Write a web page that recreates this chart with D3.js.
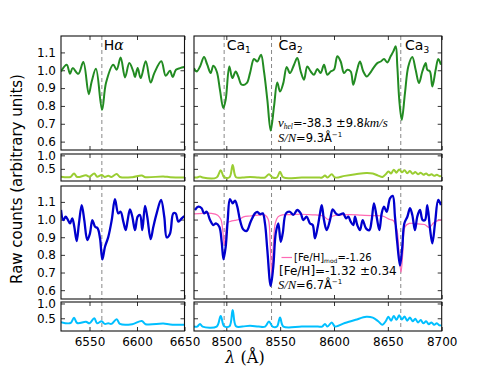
<!DOCTYPE html>
<html>
<head>
<meta charset="utf-8">
<script src="https://cdn.jsdelivr.net/npm/d3@7"></script>
<style>
  body { margin: 0; background: #fff; }
  text { font-family: "DejaVu Sans", sans-serif; }
</style>
</head>
<body>
<div id="chart"></div>
<script>
// ---- data ----
// H-alpha window, star 1 (green)
var lamG1 = [6520,6526,6529.5,6532.3,6538.2,6543.5,6549.2,6552.3,6556.8,6563.2,6567.4,6575,6578.6,6582.8,6587.4,6591.9,6596.1,6597.9,6600.7,6603.9,6609.2,6614.4,6618.2,6625.6,6630.2,6634.7,6637.6,6641,6645.3,6649.8];
var fluxG1 = [0.993,1.031,0.98,1.012,0.98,1.046,0.866,0.937,1.008,0.778,0.93,1.031,1.003,1.072,0.96,1.04,0.993,0.962,1.012,0.956,1.05,0.931,0.984,1.05,0.969,0.997,0.962,1.003,1.012,1.018];
// CaT window, star 1 (green)
var lamG2 = [8470,8472.5,8475.6,8479.3,8482.3,8485.5,8487.9,8491.1,8494.1,8497.2,8499.4,8502.8,8505.6,8508.7,8511.1,8514.3,8518.9,8522,8525.7,8528.8,8532.2,8535,8538.1,8541.2,8544.3,8547.3,8549.9,8552.9,8556.1,8559.1,8562.9,8565.9,8569.1,8572.1,8575.2,8578.4,8581.4,8584.5,8587.6,8590.7,8593.8,8596.9,8600,8603.1,8606.2,8609.3,8612.3,8615.5,8617.9,8621.1,8624.1,8627.2,8630.4,8633.4,8636.5,8640.2,8643.4,8646.4,8649.5,8652.6,8655.1,8657.3,8658.8,8660.6,8662.9,8665.9,8669,8672.7,8675.8,8678.9,8682,8685.1,8686.6,8689.1,8691.3,8694.4,8696.8,8699.3];
var fluxG2 = [1.012,0.993,1.021,1.074,1.031,0.984,1.025,0.993,0.89,0.788,0.834,1.021,0.956,0.993,0.965,0.919,0.928,0.984,1.063,1.049,1.087,0.993,0.834,0.662,0.797,0.931,0.881,0.928,1.018,0.984,1.031,1.069,0.993,0.947,1.021,0.993,0.975,1.007,0.984,1.031,0.975,0.993,1.003,1.078,1.049,0.984,1.003,0.993,0.919,0.993,1.049,0.993,0.965,0.984,1.012,1.04,1.049,1.063,1.044,1.078,1.106,1.134,1.021,0.834,0.722,0.872,1.021,1.074,1.003,0.928,0.993,1.04,1.003,0.993,0.909,1.003,1.063,1.031];
// H-alpha window, star 2 (blue)
var lamB1 = [6520,6522.4,6524.9,6527.1,6529.5,6531.9,6534,6536.5,6538.9,6541.8,6544.5,6547.7,6550.5,6553,6555.8,6558.6,6561.1,6563.5,6566.3,6569.8,6573.4,6576.8,6580.3,6582.8,6585.6,6588.1,6590.2,6592.6,6595.1,6597.9,6600.7,6603.2,6605.6,6608.4,6610.8,6614.4,6617.2,6620.7,6625.3,6628.7,6631.3,6634.7,6638.2,6640.7,6643.5,6647.1,6649.8];
var fluxB1 = [1.054,0.997,1.016,1.0,0.978,1.007,0.959,0.878,0.978,1.082,0.997,0.884,0.922,0.997,0.96,0.95,0.893,0.774,0.846,0.902,0.997,1.115,1.035,1.044,0.988,0.94,0.997,1.058,1.016,0.94,1.016,1.026,0.94,1.077,1.016,0.889,0.959,1.035,1.111,1.016,0.899,0.92,1.035,1.035,0.988,1.007,1.02];
// CaT window, star 2 (blue)
var lamB2 = [8470.9,8474,8477.1,8479.3,8481.8,8484.9,8487.9,8490.4,8493.5,8495.7,8497.4,8499.4,8501.3,8503.4,8505.9,8508.1,8510.2,8512.7,8515.8,8518.9,8522.6,8526.6,8528.8,8531.3,8533.8,8535.9,8538.1,8541.2,8543.6,8545.9,8548.3,8550.5,8552.4,8555.4,8559.1,8562.2,8565.9,8569.1,8571.5,8574.6,8577.7,8580.2,8582.3,8584.9,8587,8588.6,8590.7,8593.2,8596.3,8598.8,8601.6,8604,8606.5,8608.6,8611.1,8613.3,8615.5,8617.9,8619.5,8621.6,8624.1,8626.6,8629.7,8632.8,8635,8637.1,8639.6,8642.1,8644.3,8646.4,8648.9,8652,8654.5,8656.6,8658.8,8661.3,8663.4,8665.3,8668.1,8670.6,8672.7,8675.2,8677.3,8679.8,8682.3,8684.5,8686.6,8689.1,8691.3,8693.8,8696.8,8699.3];
var fluxB2 = [1.054,1.073,1.064,1.035,1.044,0.997,0.969,0.978,0.959,0.874,0.775,0.845,0.997,1.115,1.092,1.107,1.073,0.997,0.944,0.936,0.988,1.035,1.044,1.03,1.035,0.978,0.827,0.625,0.732,0.922,0.978,0.874,0.922,1.035,1.044,1.026,1.054,1.035,0.997,1.016,0.978,0.969,0.893,0.959,1.035,1.082,0.997,0.94,0.997,1.058,1.035,1.026,1.031,1.035,1.007,1.016,0.988,0.969,1.016,0.969,0.94,0.997,0.95,0.94,0.997,1.092,1.016,0.94,1.035,1.073,1.044,1.12,1.134,1.016,0.865,0.74,0.845,0.978,1.016,1.064,1.026,0.94,1.016,1.054,0.997,0.997,1.082,0.95,0.865,0.978,1.111,1.082];
// model for star 2 (pink)
var lamM = [8470,8478,8486,8492,8495,8497,8498.2,8499.5,8501,8504,8508,8512,8516,8522,8530,8536,8539,8540.8,8542.2,8543.6,8545.5,8548,8552,8560,8570,8580,8590,8594.5,8599,8606,8615,8625,8635,8645,8652,8655,8658.5,8660.5,8662.2,8664,8666,8670,8678,8684,8688.5,8693,8700];
var fluxM = [1.032,1.035,1.035,1.025,1.0,0.92,0.855,0.92,0.98,0.99,0.995,1.0,1.015,1.02,1.025,1.025,1.0,0.85,0.675,0.85,0.98,1.015,1.026,1.028,1.03,1.027,1.02,1.0,1.02,1.026,1.028,1.025,1.022,1.02,1.0,0.995,0.94,0.8,0.70,0.82,0.96,0.978,0.975,0.972,0.955,0.985,1.0];
// error spectra (lower strips)
var lamE1 = [6520,6530,6533.7,6537,6546.3,6550,6555,6558,6562.8,6566,6569.8,6573,6578.6,6582,6595,6605,6609,6627.7,6635,6650];
var errG1 = [0.21,0.2,0.33,0.2,0.26,0.21,0.33,0.21,0.27,0.2,0.24,0.2,0.31,0.2,0.19,0.25,0.19,0.22,0.19,0.18];
var errB1 = [0.37,0.34,0.52,0.34,0.38,0.33,0.5,0.33,0.4,0.31,0.33,0.31,0.47,0.31,0.3,0.41,0.3,0.32,0.29,0.28];
var lamE2 = [8470,8473,8475.6,8478,8491,8494.8,8498,8503,8505.9,8509,8515,8522,8530,8536,8539.6,8543,8547,8549.9,8553,8570,8585,8589,8591.6,8594,8597.9,8601,8610,8620,8630,8636,8641,8645,8648,8650.5,8653,8655.5,8658,8660.5,8663,8665.5,8668,8670.5,8673,8675.5,8678,8680.5,8683,8685.5,8688,8690.5,8693,8695.5,8698,8700];
var errG2 = [0.18,0.18,0.22,0.18,0.18,0.45,0.19,0.19,0.64,0.19,0.18,0.2,0.18,0.18,0.3,0.18,0.18,0.39,0.18,0.18,0.18,0.18,0.25,0.18,0.3,0.18,0.24,0.3,0.35,0.33,0.25,0.2,0.3,0.4,0.33,0.47,0.36,0.48,0.37,0.45,0.34,0.42,0.32,0.38,0.3,0.36,0.28,0.33,0.26,0.3,0.24,0.28,0.23,0.24];
var errB2 = [0.22,0.22,0.31,0.22,0.22,0.58,0.23,0.23,0.78,0.23,0.22,0.25,0.22,0.22,0.39,0.22,0.22,0.53,0.22,0.22,0.22,0.22,0.31,0.22,0.36,0.22,0.34,0.45,0.55,0.52,0.4,0.28,0.4,0.55,0.42,0.58,0.45,0.6,0.46,0.56,0.42,0.53,0.4,0.48,0.36,0.44,0.33,0.4,0.3,0.36,0.28,0.33,0.26,0.27];

// reference lines, their label positions, and ticks
var lineHa = [6563];
var lineCa = [8498, 8542, 8662];
var labelLamHa = 6565;
var labelLamCa = [8500.3, 8548.5, 8666];
var labelSubCa = ["1", "2", "3"];
var xTicksL = [6550, 6600, 6650];
var xTicksR = [8500, 8550, 8600, 8650, 8700];
var yTicksMain = [0.6, 0.7, 0.8, 0.9, 1.0, 1.1];
var yTicksErr = [0.5, 1.0];

// ---- layout ----
var W = 491, H = 368;
var svg = d3.select("#chart").append("svg")
    .attr("width", W).attr("height", H)
    .style("background", "#fff");

var xL = d3.scaleLinear().domain([6520, 6650]).range([61, 184.5]);
var xR = d3.scaleLinear().domain([8470, 8700]).range([194, 441.7]);

var yMain1 = d3.scaleLinear().domain([0.553, 1.192]).range([150, 36]);
var yErr1 = d3.scaleLinear().domain([0.05, 1.05]).range([181, 154]);
var yMain2 = d3.scaleLinear().domain([0.55, 1.19]).range([299, 186]);
var yErr2 = d3.scaleLinear().domain([0.07, 1.05]).range([331, 302]);

var clipId = 0;
function panel(x, y, yTicks, showY, showX, xTicks) {
  var g = svg.append("g");
  var x0 = x.range()[0], x1 = x.range()[1];
  var y0 = y.range()[1], y1 = y.range()[0];
  clipId++;
  svg.append("clipPath").attr("id", "clip" + clipId)
    .append("rect").attr("x", x0).attr("y", y0).attr("width", x1 - x0).attr("height", y1 - y0);
  var fmt = d3.format(".1f");
  // ticks on all four sides, pointing in
  g.append("g").attr("transform", "translate(" + x0 + ",0)")
    .call(d3.axisLeft(y).tickValues(yTicks).tickSize(-4).tickPadding(5)
      .tickFormat(showY ? fmt : ""));
  g.append("g").attr("transform", "translate(" + x1 + ",0)")
    .call(d3.axisRight(y).tickValues(yTicks).tickSize(-4).tickFormat(""));
  g.append("g").attr("transform", "translate(0," + y1 + ")")
    .call(d3.axisBottom(x).tickValues(xTicks).tickSize(-4).tickPadding(6)
      .tickFormat(showX ? d3.format("d") : ""));
  g.append("g").attr("transform", "translate(0," + y0 + ")")
    .call(d3.axisTop(x).tickValues(xTicks).tickSize(-4).tickFormat(""));
  g.selectAll(".domain").remove();
  g.selectAll(".tick line").attr("stroke", "#000").attr("stroke-width", 0.8);
  g.selectAll(".tick text").attr("font-size", 12).attr("fill", "#000")
    .style("font-family", "DejaVu Sans, sans-serif");
  var plot = svg.append("g").attr("clip-path", "url(#clip" + clipId + ")");
  return { g: g, plot: plot, x0: x0, x1: x1, y0: y0, y1: y1 };
}

function frame(p) {
  svg.append("rect").attr("x", p.x0).attr("y", p.y0)
    .attr("width", p.x1 - p.x0).attr("height", p.y1 - p.y0)
    .attr("fill", "none").attr("stroke", "#111").attr("stroke-width", 1.1);
}

function spectrum(p, x, y, lam, flux, color, width) {
  var line = d3.line()
    .x(function(d, i) { return x(lam[i]); })
    .y(function(d) { return y(d); })
    .curve(d3.curveCatmullRom.alpha(0.5));
  p.plot.append("path").datum(flux)
    .attr("d", line)
    .attr("fill", "none")
    .attr("stroke", color)
    .attr("stroke-width", width)
    .attr("stroke-linejoin", "round");
}

function dashes(p, x, lines) {
  p.plot.selectAll(null).data(lines).enter().append("line")
    .attr("x1", function(d) { return x(d); })
    .attr("x2", function(d) { return x(d); })
    .attr("y1", p.y0).attr("y2", p.y1)
    .attr("stroke", "#888").attr("stroke-width", 1)
    .attr("stroke-dasharray", "4,3");
}

// left column (H-alpha)
var pL1 = panel(xL, yMain1, yTicksMain, true, false, xTicksL);
var pL2 = panel(xL, yErr1, yTicksErr, true, false, xTicksL);
var pL3 = panel(xL, yMain2, yTicksMain, true, false, xTicksL);
var pL4 = panel(xL, yErr2, yTicksErr, true, true, xTicksL);
// right column (CaT)
var pR1 = panel(xR, yMain1, yTicksMain, false, false, xTicksR);
var pR2 = panel(xR, yErr1, yTicksErr, false, false, xTicksR);
var pR3 = panel(xR, yMain2, yTicksMain, false, false, xTicksR);
var pR4 = panel(xR, yErr2, yTicksErr, false, true, xTicksR);

[pL1, pL2, pL3, pL4].forEach(function(p) { dashes(p, xL, lineHa); });
[pR1, pR2, pR3, pR4].forEach(function(p) { dashes(p, xR, lineCa); });

spectrum(pL1, xL, yMain1, lamG1, fluxG1, "#228b22", 2);
spectrum(pR1, xR, yMain1, lamG2, fluxG2, "#228b22", 2);
spectrum(pL2, xL, yErr1, lamE1, errG1, "#9acd32", 2);
spectrum(pR2, xR, yErr1, lamE2, errG2, "#9acd32", 2);
spectrum(pR3, xR, yMain2, lamM, fluxM, "#ff69b4", 1.2);
spectrum(pL3, xL, yMain2, lamB1, fluxB1, "#0000cd", 2.3);
spectrum(pR3, xR, yMain2, lamB2, fluxB2, "#0000cd", 2.3);
spectrum(pL4, xL, yErr2, lamE1, errB1, "#00bfff", 2);
spectrum(pR4, xR, yErr2, lamE2, errB2, "#00bfff", 2);

[pL1, pL2, pL3, pL4, pR1, pR2, pR3, pR4].forEach(frame);

// ---- line labels ----
var ha = svg.append("text").attr("x", xL(labelLamHa)).attr("y", 50).attr("font-size", 14);
ha.append("tspan").text("H");
ha.append("tspan").text("α").style("font-family", "DejaVu Serif, serif").style("font-style", "italic");

labelLamCa.forEach(function(lam, i) {
  var t = svg.append("text").attr("x", xR(lam)).attr("y", 50).attr("font-size", 14);
  t.append("tspan").text("Ca");
  t.append("tspan").text(labelSubCa[i]).attr("font-size", 9).attr("dy", 3);
});

// ---- annotations ----
var mathFont = "Liberation Serif, serif";
var t1 = svg.append("text").attr("x", 278).attr("y", 127).attr("font-size", 11.5);
t1.append("tspan").text("v").style("font-family", mathFont).style("font-style", "italic").attr("font-size", 13);
t1.append("tspan").text("hel").style("font-family", mathFont).style("font-style", "italic").attr("font-size", 7.5).attr("dy", 1.5);
t1.append("tspan").text("=").attr("dy", -1.5);
t1.append("tspan").text("-38.3 ±9.8");
t1.append("tspan").text("km/s").style("font-family", mathFont).style("font-style", "italic").attr("font-size", 13);

function snText(y, val) {
  var t = svg.append("text").attr("x", 278).attr("y", y).attr("font-size", 11.5);
  t.append("tspan").text("S/N").style("font-family", mathFont).style("font-style", "italic").attr("font-size", 12.5);
  t.append("tspan").text("=" + val + "Å");
  t.append("tspan").text("−1").attr("font-size", 7).attr("dy", -5);
}
snText(141.5, "9.3");
snText(289, "6.7");

// model legend
svg.append("line").attr("x1", 281.5).attr("x2", 292).attr("y1", 257.5).attr("y2", 257.5)
  .attr("stroke", "#ff69b4").attr("stroke-width", 1.2);
var lg = svg.append("text").attr("x", 294).attr("y", 261).attr("font-size", 10);
lg.append("tspan").text("[Fe/H]");
lg.append("tspan").text("mod").attr("font-size", 6).attr("dy", 2);
lg.append("tspan").text("=-1.26").attr("dy", -2);

svg.append("text").attr("x", 279).attr("y", 274.5).attr("font-size", 12)
  .text("[Fe/H]=-1.32 ±0.34");

// ---- axis titles ----
svg.append("text")
  .attr("transform", "translate(22,179) rotate(-90)")
  .attr("text-anchor", "middle")
  .attr("font-size", 15)
  .text("Raw counts (arbitrary units)");

var xl = svg.append("text").attr("x", 245).attr("y", 363).attr("text-anchor", "middle")
  .attr("font-size", 16).style("font-family", "DejaVu Serif, serif");
xl.append("tspan").text("λ").style("font-style", "italic");
xl.append("tspan").text(" (Å)");
</script>
</body>
</html>
